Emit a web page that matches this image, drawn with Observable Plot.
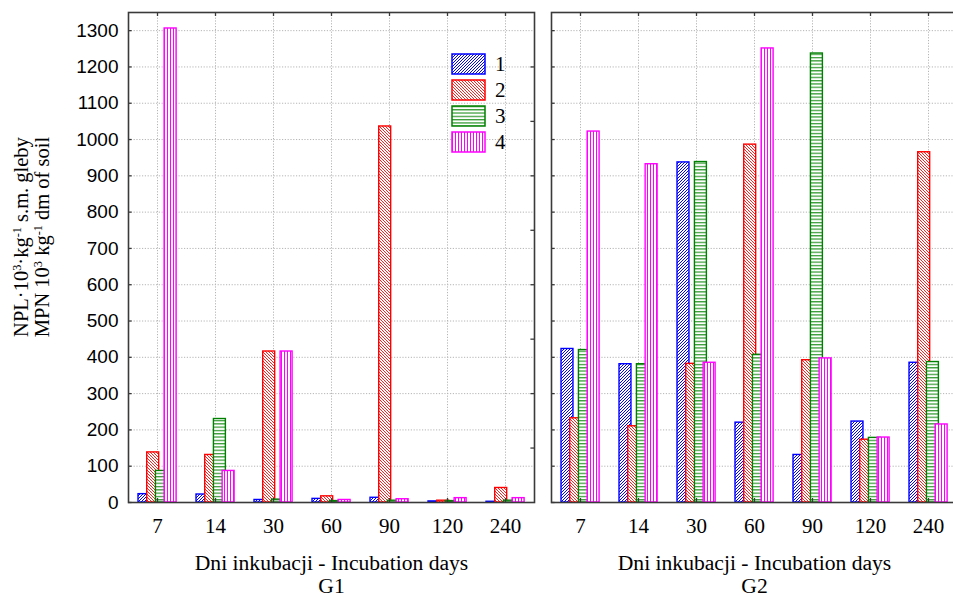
<!DOCTYPE html>
<html>
<head>
<meta charset="utf-8">
<script src="https://cdn.jsdelivr.net/npm/d3@7"></script>
<script src="https://cdn.jsdelivr.net/npm/@observablehq/plot@0.6"></script>
<style>
  html, body { margin: 0; padding: 0; background: #fff; overflow: hidden; }
  #wrap { position: relative; width: 953px; height: 598px; overflow: hidden; }
  #chart { width: 960px; }
  #chart svg { max-width: none !important; }
  #ytitle {
    position: absolute; left: 33px; top: 237px;
    transform: translate(-50%, -50%) rotate(-90deg);
    font-family: "Liberation Serif", "Times New Roman", serif; font-size: 20.5px; line-height: 18px;
    text-align: center; white-space: nowrap; color: #000;
  }
  #ytitle sup { font-size: 0.6em; vertical-align: baseline; position: relative; top: -0.55em; }
  #legend { position: absolute; left: 451px; top: 51px; font-family: "Liberation Serif", "Times New Roman", serif; font-size: 21px; }
  .lg { display: flex; align-items: center; height: 26px; }
  .lg svg { display: block; }
  .lg span { margin-left: 9px; line-height: 20px; }
  #chart svg text { font-family: "Liberation Serif", "Times New Roman", serif; }
</style>
</head>
<body>
<svg width="0" height="0" style="position:absolute">
  <defs>
    <pattern id="p1" patternUnits="userSpaceOnUse" width="3" height="3">
      <rect width="3" height="3" fill="#fff"/>
      <path d="M-1,1 L1,-1 M0,3 L3,0 M2,4 L4,2" stroke="#0000ff" stroke-width="1"/>
    </pattern>
    <pattern id="p2" patternUnits="userSpaceOnUse" width="3" height="3">
      <rect width="3" height="3" fill="#fff"/>
      <path d="M-1,2 L1,4 M0,0 L3,3 M2,-1 L4,1" stroke="#ff2020" stroke-width="1"/>
    </pattern>
    <pattern id="p3" patternUnits="userSpaceOnUse" width="4" height="3.3">
      <rect width="4" height="3.3" fill="#fff"/>
      <path d="M0,1.5 L4,1.5" stroke="#008000" stroke-width="1"/>
    </pattern>
    <pattern id="p4" patternUnits="userSpaceOnUse" width="3" height="4">
      <rect width="3" height="4" fill="#fff"/>
      <path d="M1.5,0 L1.5,4" stroke="#ff00ff" stroke-width="1"/>
    </pattern>
  </defs>
</svg>
<div id="wrap">
  <div id="chart"></div>
  <div id="ytitle">NPL·10<sup>3</sup>·kg<sup>-1</sup> s.m. gleby<br>MPN 10<sup>3</sup> kg<sup>-1</sup> dm of soil</div>
  <div id="legend"></div>
</div>
<script>
// ---- data ----
const days = ["7", "14", "30", "60", "90", "120", "240"];
const groups = ["G1", "G2"];
const seriesNames = ["1", "2", "3", "4"];
const g1_s1 = [23, 22, 7, 10, 13, 3, 2];
const g1_s2 = [138, 131, 416, 17, 1036, 5, 40];
const g1_s3 = [87, 230, 8, 4, 5, 4, 5];
const g1_s4 = [1306, 87, 416, 7, 9, 12, 12];
const g2_s1 = [423, 381, 937, 220, 131, 223, 385];
const g2_s2 = [232, 210, 382, 986, 392, 173, 965];
const g2_s3 = [420, 381, 938, 407, 1237, 178, 387];
const g2_s4 = [1022, 932, 385, 1251, 397, 179, 215];
const yTicks = d3.range(0, 1301, 100);
const yTicksRight = d3.range(150, 1201, 150);
const xTitle = "Dni inkubacji - Incubation days";

const seriesData = {
  G1: [g1_s1, g1_s2, g1_s3, g1_s4],
  G2: [g2_s1, g2_s2, g2_s3, g2_s4]
};
const rows = [];
for (const g of groups) {
  seriesData[g].forEach((vals, si) => {
    vals.forEach((v, di) => rows.push({g, day: days[di], s: seriesNames[si], v}));
  });
}

// ---- styles / layout ----
const serif = "'Liberation Serif', 'Times New Roman', serif";
const sans = "'Liberation Sans', Arial, sans-serif";
const strokes = ["#0000ff", "#ff0000", "#008000", "#ff00ff"];
const W = 960, H = 598, mL = 127, mR = 3, mT = 12, mB = 96;
const fxPad = 0.0406;
const panelW = (W - mL - mR) / (2 - fxPad) * (1 - fxPad);
const bw = panelW / days.length;
const k = bw / 58;
const barW = 12 * k;
const offs = [10, 18.7, 27.4, 36.1].map(o => o * k);
const innerH = H - mT - mB;
const frameColor = "#3a3a3a";
const gridStyle = {stroke: "#b5b5b5", strokeOpacity: 1, strokeWidth: 1, strokeDasharray: "1.2,1.6"};

const bars = seriesNames.map((s, i) =>
  Plot.barY(rows.filter(d => d.s === s), {
    fx: "g", x: "day", y: "v",
    fill: `url(#p${i + 1})`, stroke: strokes[i], strokeWidth: 1.4,
    insetLeft: offs[i], insetRight: bw - offs[i] - barW
  })
);

const chart = Plot.plot({
  width: W, height: H,
  marginLeft: mL, marginRight: mR, marginTop: mT, marginBottom: mB,
  style: {fontFamily: serif, background: "#fff", color: "#000", overflow: "visible", maxWidth: "none"},
  fx: {domain: groups, paddingInner: fxPad, paddingOuter: 0, label: null},
  x: {domain: days, padding: 0, label: null},
  y: {domain: [0, 1350], label: null},
  marks: [
    Plot.gridY(yTicks.filter(t => t > 0), gridStyle),
    Plot.gridX(days, gridStyle),
    ...bars,
    Plot.tickY(yTicks, {y: d => d, stroke: frameColor, strokeWidth: 1.3, insetRight: panelW - 4}),
    Plot.tickY(yTicksRight.map(v => ({v, g: "G1"})), {fx: "g", y: "v", stroke: frameColor, strokeWidth: 1.3, insetLeft: panelW - 4}),
    Plot.tickX(days, {x: d => d, stroke: frameColor, strokeWidth: 1.3, insetBottom: innerH - 4}),
    Plot.tickX(days, {x: d => d, stroke: frameColor, strokeWidth: 1.3, insetTop: innerH - 4}),
    Plot.frame({stroke: frameColor, strokeWidth: 1.6}),
    Plot.axisY({ticks: yTicks, tickFormat: d => String(d), anchor: "left", tickSize: 0, tickPadding: 10,
      fontSize: 19, fontFamily: sans, label: null}),
    Plot.axisX({anchor: "bottom", tickSize: 0, tickPadding: 16, fontSize: 21, fontFamily: serif, label: null}),
    Plot.axisFx({anchor: "bottom", tickSize: 0, tickPadding: 51, fontSize: 21.6, lineHeight: 1.06, fontFamily: serif,
      tickFormat: g => xTitle + "\n" + g, label: null})
  ]
});
document.getElementById("chart").appendChild(chart);
// y tick labels use the sans face
d3.select(chart).selectAll("g[aria-label='y-axis tick label'] text, g[aria-label='y-axis tick label']")
  .style("font-family", sans);

// legend
const legend = d3.select("#legend");
seriesNames.forEach((s, i) => {
  const row = legend.append("div").attr("class", "lg");
  const svg = row.append("svg").attr("width", 35).attr("height", 22);
  svg.append("rect").attr("x", 1).attr("y", 1).attr("width", 33).attr("height", 20)
    .attr("fill", `url(#p${i + 1})`).attr("stroke", strokes[i]).attr("stroke-width", 1.5);
  row.append("span").text(s);
});
</script>
</body>
</html>
